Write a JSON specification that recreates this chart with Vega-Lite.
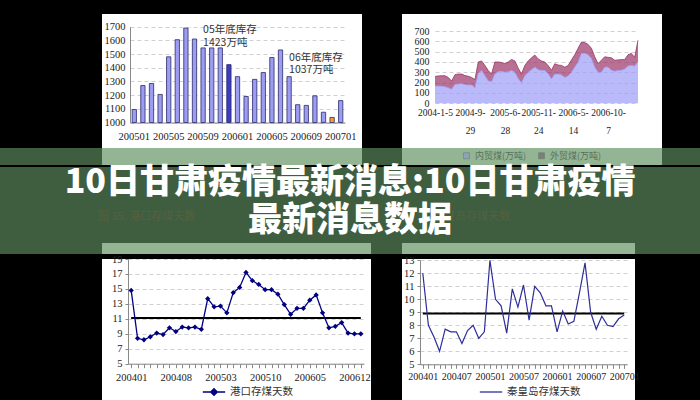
{
  "$schema": "https://vega.github.io/schema/vega-lite/v6.json",
  "background": "#000000",
  "padding": {"top": 14, "left": 0, "right": 0, "bottom": 0},
  "config": {
    "view": {"stroke": null},
    "axis": {"labelFont": "Liberation Serif", "labelFontSize": 10, "labelColor": "#222222", "domainColor": "#888888", "tickColor": "#888888", "gridColor": "#c4c4c4", "gridDash": [4, 3], "gridWidth": 0.8, "labelFlush": false, "labelOverlap": false},
    "legend": {"labelFont": "Noto Sans CJK SC", "labelColor": "#333333"},
    "text": {"font": "Noto Sans CJK SC"}
  },
  "spacing": 0,
  "resolve": {"scale": {"color": "independent"}, "legend": {"color": "independent"}},
  "vconcat": [
    {
      "spacing": 0,
      "resolve": {"scale": {"color": "independent"}, "legend": {"color": "independent"}},
      "hconcat": [
        {"width": 102, "height": 2, "data": {"values": []}, "mark": "point"},
        {
          "width": 260, "height": 134,
          "view": {"fill": "#ffffff", "stroke": null},
          "data": {"values": [
            {"月份": "200501", "库存": 1095}, {"月份": "200502", "库存": 1270}, {"月份": "200503", "库存": 1285},
            {"月份": "200504", "库存": 1205}, {"月份": "200505", "库存": 1480}, {"月份": "200506", "库存": 1605},
            {"月份": "200507", "库存": 1690}, {"月份": "200508", "库存": 1610}, {"月份": "200509", "库存": 1545},
            {"月份": "200510", "库存": 1545}, {"月份": "200511", "库存": 1545}, {"月份": "200512", "库存": 1423},
            {"月份": "200601", "库存": 1335}, {"月份": "200602", "库存": 1190}, {"月份": "200603", "库存": 1315},
            {"月份": "200604", "库存": 1365}, {"月份": "200605", "库存": 1475}, {"月份": "200606", "库存": 1530},
            {"月份": "200607", "库存": 1335}, {"月份": "200608", "库存": 1130}, {"月份": "200609", "库存": 1125},
            {"月份": "200610", "库存": 1195}, {"月份": "200611", "库存": 1075}, {"月份": "200612", "库存": 1037},
            {"月份": "200701", "库存": 1160}
          ]},
          "encoding": {
            "x": {"field": "月份", "type": "ordinal", "title": null,
              "scale": {"type": "band", "range": [28, 243], "paddingInner": 0.5, "paddingOuter": 0.25},
              "axis": {"values": ["200501", "200505", "200509", "200601", "200605", "200609", "200701"], "offset": -25.5, "ticks": false, "labelPadding": 9, "labelAngle": 0, "labelOverlap": false, "labelFontSize": 10.5}},
            "y": {"field": "库存", "type": "quantitative", "title": null,
              "scale": {"domain": [1000, 1700], "range": [108.5, 12.7], "nice": false, "zero": false},
              "axis": {"values": [1000, 1100, 1200, 1300, 1400, 1500, 1600, 1700], "format": "d", "offset": -28, "ticks": false, "labelPadding": 5, "grid": true, "labelOverlap": false, "labelFontSize": 10.5}}
          },
          "layer": [
            {
              "mark": {"type": "bar", "stroke": "#2b2b6b", "strokeWidth": 0.8},
              "encoding": {
                "y2": {"datum": 1000},
                "color": {"condition": [{"test": "datum['月份'] == '200512'", "value": "#3b3bc4"}, {"test": "datum['月份'] == '200612'", "value": "#f2a12a"}], "value": "#9c9cf2"}
              }
            },
            {
              "data": {"values": [
                {"月份": "200509", "库存": 1676, "注": "05年底库存"},
                {"月份": "200509", "库存": 1582, "注": "1423万吨"},
                {"月份": "200607", "库存": 1471, "注": "06年底库存"},
                {"月份": "200607", "库存": 1386, "注": "1037万吨"}
              ]},
              "mark": {"type": "text", "align": "left", "baseline": "middle", "fontSize": 10.5, "color": "#333333"},
              "encoding": {
                "text": {"field": "注"}
              }
            }
          ]
        },
        {"width": 40, "height": 2, "data": {"values": []}, "mark": "point"},
        {
          "width": 260, "height": 134,
          "view": {"fill": "#ffffff", "stroke": null},
          "data": {"values": [
            {"序号": 0, "内贸煤(万吨)": 167, "外贸煤(万吨)": 93}, {"序号": 1, "内贸煤(万吨)": 167, "外贸煤(万吨)": 98},
            {"序号": 2, "内贸煤(万吨)": 165, "外贸煤(万吨)": 102}, {"序号": 3, "内贸煤(万吨)": 160, "外贸煤(万吨)": 107},
            {"序号": 4, "内贸煤(万吨)": 150, "外贸煤(万吨)": 100}, {"序号": 5, "内贸煤(万吨)": 135, "外贸煤(万吨)": 80},
            {"序号": 6, "内贸煤(万吨)": 183, "外贸煤(万吨)": 94}, {"序号": 7, "内贸煤(万吨)": 188, "外贸煤(万吨)": 95},
            {"序号": 8, "内贸煤(万吨)": 190, "外贸煤(万吨)": 93}, {"序号": 9, "内贸煤(万吨)": 180, "外贸煤(万吨)": 88},
            {"序号": 10, "内贸煤(万吨)": 177, "外贸煤(万吨)": 85}, {"序号": 11, "内贸煤(万吨)": 177, "外贸煤(万吨)": 73},
            {"序号": 12, "内贸煤(万吨)": 150, "外贸煤(万吨)": 80}, {"序号": 13, "内贸煤(万吨)": 290, "外贸煤(万吨)": 110},
            {"序号": 14, "内贸煤(万吨)": 317, "外贸煤(万吨)": 93}, {"序号": 15, "内贸煤(万吨)": 267, "外贸煤(万吨)": 100},
            {"序号": 16, "内贸煤(万吨)": 217, "外贸煤(万吨)": 100}, {"序号": 17, "内贸煤(万吨)": 210, "外贸煤(万吨)": 73},
            {"序号": 18, "内贸煤(万吨)": 283, "外贸煤(万吨)": 117}, {"序号": 19, "内贸煤(万吨)": 305, "外贸煤(万吨)": 95},
            {"序号": 20, "内贸煤(万吨)": 310, "外贸煤(万吨)": 85}, {"序号": 21, "内贸煤(万吨)": 300, "外贸煤(万吨)": 85},
            {"序号": 22, "内贸煤(万吨)": 305, "外贸煤(万吨)": 95}, {"序号": 23, "内贸煤(万吨)": 317, "外贸煤(万吨)": 108},
            {"序号": 24, "内贸煤(万吨)": 300, "外贸煤(万吨)": 110}, {"序号": 25, "内贸煤(万吨)": 240, "外贸煤(万吨)": 100},
            {"序号": 26, "内贸煤(万吨)": 200, "外贸煤(万吨)": 83}, {"序号": 27, "内贸煤(万吨)": 267, "外贸煤(万吨)": 100},
            {"序号": 28, "内贸煤(万吨)": 300, "外贸煤(万吨)": 110}, {"序号": 29, "内贸煤(万吨)": 325, "外贸煤(万吨)": 115},
            {"序号": 30, "内贸煤(万吨)": 350, "外贸煤(万吨)": 117}, {"序号": 31, "内贸煤(万吨)": 325, "外贸煤(万吨)": 105},
            {"序号": 32, "内贸煤(万吨)": 317, "外贸煤(万吨)": 93}, {"序号": 33, "内贸煤(万吨)": 317, "外贸煤(万吨)": 83},
            {"序号": 34, "内贸煤(万吨)": 285, "外贸煤(万吨)": 80}, {"序号": 35, "内贸煤(万吨)": 235, "外贸煤(万吨)": 85},
            {"序号": 36, "内贸煤(万吨)": 283, "外贸煤(万吨)": 100}, {"序号": 37, "内贸煤(万吨)": 283, "外贸煤(万吨)": 87},
            {"序号": 38, "内贸煤(万吨)": 275, "外贸煤(万吨)": 92}, {"序号": 39, "内贸煤(万吨)": 250, "外贸煤(万吨)": 100},
            {"序号": 40, "内贸煤(万吨)": 265, "外贸煤(万吨)": 100}, {"序号": 41, "内贸煤(万吨)": 300, "外贸煤(万吨)": 120},
            {"序号": 42, "内贸煤(万吨)": 350, "外贸煤(万吨)": 120}, {"序号": 43, "内贸煤(万吨)": 400, "外贸煤(万吨)": 133},
            {"序号": 44, "内贸煤(万吨)": 483, "外贸煤(万吨)": 110}, {"序号": 45, "内贸煤(万吨)": 485, "外贸煤(万吨)": 103},
            {"序号": 46, "内贸煤(万吨)": 470, "外贸煤(万吨)": 100}, {"序号": 47, "内贸煤(万吨)": 433, "外贸煤(万吨)": 100},
            {"序号": 48, "内贸煤(万吨)": 350, "外贸煤(万吨)": 100}, {"序号": 49, "内贸煤(万吨)": 300, "外贸煤(万吨)": 83},
            {"序号": 50, "内贸煤(万吨)": 300, "外贸煤(万吨)": 117}, {"序号": 51, "内贸煤(万吨)": 350, "外贸煤(万吨)": 100},
            {"序号": 52, "内贸煤(万吨)": 350, "外贸煤(万吨)": 95}, {"序号": 53, "内贸煤(万吨)": 320, "外贸煤(万吨)": 120},
            {"序号": 54, "内贸煤(万吨)": 310, "外贸煤(万吨)": 107}, {"序号": 55, "内贸煤(万吨)": 317, "外贸煤(万吨)": 103},
            {"序号": 56, "内贸煤(万吨)": 320, "外贸煤(万吨)": 103}, {"序号": 57, "内贸煤(万吨)": 333, "外贸煤(万吨)": 90},
            {"序号": 58, "内贸煤(万吨)": 360, "外贸煤(万吨)": 110}, {"序号": 59, "内贸煤(万吨)": 367, "外贸煤(万吨)": 116},
            {"序号": 60, "内贸煤(万吨)": 360, "外贸煤(万吨)": 85}, {"序号": 61, "内贸煤(万吨)": 400, "外贸煤(万吨)": 210}
          ]},
          "transform": [{"fold": ["内贸煤(万吨)", "外贸煤(万吨)"], "as": ["类型", "万吨"]}],
          "mark": {"type": "area", "line": {"color": "#3a0f2a", "strokeWidth": 0.8}},
          "encoding": {
            "x": {"field": "序号", "type": "quantitative", "title": null,
              "scale": {"domain": [0, 61], "range": [33, 236], "nice": false, "zero": false},
              "axis": {"values": [0, 10.5, 21, 31, 41.5, 52], "labelExpr": "datum.value == 0 ? '2004-1-5' : datum.value == 10.5 ? ['2004-9-', '29'] : datum.value == 21 ? ['2005-6-', '28'] : datum.value == 31 ? ['2005-11-', '24'] : datum.value == 41.5 ? ['2006-5-', '14'] : ['2006-10-', '7']", "offset": -44.7, "ticks": false, "domain": false, "grid": false, "labelPadding": 4, "labelLineHeight": 18, "labelFontSize": 9.5, "labelOverlap": false, "labelFlush": false}},
            "y": {"field": "万吨", "type": "quantitative", "stack": "zero", "title": null,
              "scale": {"domain": [0, 700], "range": [89.3, 17], "nice": false},
              "axis": {"values": [0, 100, 200, 300, 400, 500, 600, 700], "offset": -33, "ticks": false, "domain": false, "grid": true, "labelPadding": 6, "labelOverlap": false, "labelFontSize": 10}},
            "color": {"field": "类型", "type": "nominal",
              "scale": {"domain": ["内贸煤(万吨)", "外贸煤(万吨)"], "range": ["#9d9dfa", "#9a3366"]},
              "legend": null},
            "order": {"field": "类型", "sort": "ascending"}
          }
        }
      ]
    },
    {
      "spacing": 0,
      "resolve": {"scale": {"color": "independent"}, "legend": {"color": "independent"}},
      "hconcat": [
        {"width": 102, "height": 17, "view": {"fill": "#3f5e40", "stroke": null}, "data": {"values": []}, "mark": "point"},
        {"width": 260, "height": 17, "view": {"fill": "#94b594", "stroke": null}, "data": {"values": []}, "mark": "point"},
        {"width": 40, "height": 17, "view": {"fill": "#3f5e40", "stroke": null}, "data": {"values": []}, "mark": "point"},
        {
          "width": 260, "height": 17,
          "view": {"fill": "#94b594", "stroke": null},
          "data": {"values": []},
          "mark": "square",
          "encoding": {
            "color": {"field": "类型", "type": "nominal",
              "scale": {"domain": ["内贸煤(万吨)", "外贸煤(万吨)"], "range": ["#8c9ccc", "#6e6a6c"]},
              "legend": {"title": null, "orient": "none", "legendX": 60, "legendY": 3, "direction": "horizontal", "symbolType": "square", "symbolSize": 36, "symbolStrokeColor": "#5a6a5a", "symbolStrokeWidth": 0.6, "labelFontSize": 9, "labelColor": "#56705a", "columnPadding": 10}}
          }
        },
        {"width": 38, "height": 17, "view": {"fill": "#3f5e40", "stroke": null}, "data": {"values": []}, "mark": "point"}
      ]
    },
    {
      "width": 700, "height": 76,
      "view": {"fill": "#3f5e40", "stroke": null},
      "layer": [
        {
          "data": {"values": [
            {"行": 2, "列": "左", "文字": "图 35:  港口存煤天数"},
            {"行": 2, "列": "右", "文字": "图 36:  秦皇岛存煤天数"}
          ]},
          "mark": {"type": "text", "font": "Noto Sans CJK SC", "fontSize": 11, "color": "#56603f", "align": "left", "baseline": "middle", "dy": -4},
          "encoding": {
            "x": {"field": "列", "type": "nominal", "scale": {"type": "point", "domain": ["左", "右"], "range": [98, 402], "padding": 0}, "axis": null},
            "y": {"field": "行", "type": "ordinal", "scale": {"type": "point", "domain": [1, 2], "range": [15.5, 53.5], "padding": 0}, "axis": null},
            "text": {"field": "文字"}
          }
        },
        {
          "data": {"values": [
            {"行": 1, "标题": "10日甘肃疫情最新消息:10日甘肃疫情"},
            {"行": 2, "标题": "最新消息数据"}
          ]},
          "mark": {"type": "text", "font": "Noto Sans CJK SC", "fontSize": 34, "fontWeight": 900, "color": "#ffffff", "align": "center", "baseline": "middle"},
          "encoding": {
            "y": {"field": "行", "type": "ordinal", "axis": null},
            "text": {"field": "标题"}
          }
        }
      ]
    },
    {
      "spacing": 0,
      "hconcat": [
        {"width": 102, "height": 11, "view": {"fill": "#3f5e40", "stroke": null}, "data": {"values": []}, "mark": "point"},
        {"width": 269, "height": 11, "view": {"fill": "#94b594", "stroke": null}, "data": {"values": []}, "mark": "point"},
        {"width": 31, "height": 11, "view": {"fill": "#3f5e40", "stroke": null}, "data": {"values": []}, "mark": "point"},
        {"width": 233, "height": 11, "view": {"fill": "#94b594", "stroke": null}, "data": {"values": []}, "mark": "point"},
        {"width": 65, "height": 11, "view": {"fill": "#3f5e40", "stroke": null}, "data": {"values": []}, "mark": "point"}
      ]
    },
    {
      "spacing": 0,
      "resolve": {"scale": {"color": "independent"}, "legend": {"color": "independent"}},
      "hconcat": [
        {"width": 102, "height": 2, "data": {"values": []}, "mark": "point"},
        {
          "width": 269, "height": 148,
          "view": {"fill": "#ffffff", "stroke": null},
          "data": {"values": [
            {"月份": "200401", "天数": 14.8}, {"月份": "200402", "天数": 8.4}, {"月份": "200403", "天数": 8.2},
            {"月份": "200404", "天数": 8.6}, {"月份": "200405", "天数": 9.1}, {"月份": "200406", "天数": 8.9},
            {"月份": "200407", "天数": 9.8}, {"月份": "200408", "天数": 9.3}, {"月份": "200409", "天数": 9.9},
            {"月份": "200410", "天数": 9.8}, {"月份": "200411", "天数": 9.9}, {"月份": "200412", "天数": 9.6},
            {"月份": "200501", "天数": 13.7}, {"月份": "200502", "天数": 12.6}, {"月份": "200503", "天数": 12.7},
            {"月份": "200504", "天数": 11.8}, {"月份": "200505", "天数": 14.5}, {"月份": "200506", "天数": 15.2},
            {"月份": "200507", "天数": 17.2}, {"月份": "200508", "天数": 16.1}, {"月份": "200509", "天数": 15.6},
            {"月份": "200510", "天数": 14.9}, {"月份": "200511", "天数": 14.9}, {"月份": "200512", "天数": 14.3},
            {"月份": "200601", "天数": 12.9}, {"月份": "200602", "天数": 11.6}, {"月份": "200603", "天数": 12.4},
            {"月份": "200604", "天数": 12.4}, {"月份": "200605", "天数": 13.5}, {"月份": "200606", "天数": 14.2},
            {"月份": "200607", "天数": 11.8}, {"月份": "200608", "天数": 9.8}, {"月份": "200609", "天数": 10.0},
            {"月份": "200610", "天数": 10.5}, {"月份": "200611", "天数": 9.1}, {"月份": "200612", "天数": 9.0},
            {"月份": "200701", "天数": 9.0}
          ]},
          "encoding": {
            "x": {"field": "月份", "type": "ordinal", "title": null,
              "scale": {"type": "point", "range": [26, 262], "padding": 0.5},
              "axis": {"labelExpr": "indexof(['200401','200408','200503','200510','200605','200612'], datum.value) >= 0 ? datum.value : ''", "offset": -43.3, "ticks": true, "tickSize": 4, "labelAngle": 0, "labelPadding": 5, "labelOverlap": false, "labelFontSize": 10.5}},
            "y": {"field": "天数", "type": "quantitative", "title": null,
              "scale": {"domain": [5, 19], "range": [104.7, 0], "nice": false, "zero": false},
              "axis": {"values": [5, 7, 9, 11, 13, 15, 17, 19], "offset": -26, "ticks": true, "tickSize": 3, "grid": true, "labelPadding": 3, "labelOverlap": false, "labelFontSize": 10.5}}
          },
          "layer": [
            {
              "data": {"values": [{"月份": "200401", "天数": 11.1}, {"月份": "200701", "天数": 11.1}]},
              "mark": {"type": "line", "color": "#000000", "strokeWidth": 2}
            },
            {
              "mark": {"type": "line", "strokeWidth": 1.3, "point": {"shape": "diamond", "size": 28, "filled": true}},
              "encoding": {
                "color": {"datum": "港口存煤天数", "scale": {"range": ["#000080"]},
                  "legend": {"title": null, "orient": "none", "legendX": 100, "legendY": 121, "symbolType": "M-1,0L1,0M0,-0.3L0.3,0L0,0.3L-0.3,0Z", "symbolSize": 500, "symbolStrokeWidth": 1.3, "symbolFillColor": "#000080", "symbolStrokeColor": "#000080", "labelFontSize": 10.5}}
              }
            }
          ]
        },
        {"width": 31, "height": 2, "data": {"values": []}, "mark": "point"},
        {
          "width": 233, "height": 148,
          "view": {"fill": "#ffffff", "stroke": null},
          "data": {"values": [
            {"月份": "200401", "天数": 12.0}, {"月份": "200402", "天数": 8.0}, {"月份": "200403", "天数": 7.1},
            {"月份": "200404", "天数": 6.0}, {"月份": "200405", "天数": 7.7}, {"月份": "200406", "天数": 7.5},
            {"月份": "200407", "天数": 7.5}, {"月份": "200408", "天数": 6.6}, {"月份": "200409", "天数": 7.6},
            {"月份": "200410", "天数": 8.0}, {"月份": "200411", "天数": 7.0}, {"月份": "200412", "天数": 7.5},
            {"月份": "200501", "天数": 13.0}, {"月份": "200502", "天数": 10.0}, {"月份": "200503", "天数": 9.5},
            {"月份": "200504", "天数": 7.4}, {"月份": "200505", "天数": 10.8}, {"月份": "200506", "天数": 9.4},
            {"月份": "200507", "天数": 11.1}, {"月份": "200508", "天数": 8.4}, {"月份": "200509", "天数": 11.0},
            {"月份": "200510", "天数": 10.5}, {"月份": "200511", "天数": 9.5}, {"月份": "200512", "天数": 9.5},
            {"月份": "200601", "天数": 7.5}, {"月份": "200602", "天数": 9.1}, {"月份": "200603", "天数": 8.1},
            {"月份": "200604", "天数": 8.3}, {"月份": "200605", "天数": 10.5}, {"月份": "200606", "天数": 12.8},
            {"月份": "200607", "天数": 9.0}, {"月份": "200608", "天数": 7.7}, {"月份": "200609", "天数": 8.7},
            {"月份": "200610", "天数": 8.0}, {"月份": "200611", "天数": 7.9}, {"月份": "200612", "天数": 8.5},
            {"月份": "200701", "天数": 8.8}
          ]},
          "encoding": {
            "x": {"field": "月份", "type": "ordinal", "title": null,
              "scale": {"type": "point", "range": [18, 225], "padding": 0.5},
              "axis": {"labelExpr": "indexof(['200401','200407','200501','200507','200601','200607','200701'], datum.value) >= 0 ? datum.value : ''", "offset": -42.7, "ticks": true, "tickSize": 4, "labelAngle": 0, "labelPadding": 3, "labelOverlap": false, "labelFontSize": 10}},
            "y": {"field": "天数", "type": "quantitative", "title": null,
              "scale": {"domain": [5, 13], "range": [105.3, 1.3], "nice": false, "zero": false},
              "axis": {"values": [5, 6, 7, 8, 9, 10, 11, 12, 13], "offset": -18, "ticks": true, "tickSize": 3, "grid": true, "labelPadding": 3, "labelOverlap": false, "labelFontSize": 10.5}}
          },
          "layer": [
            {
              "data": {"values": [{"月份": "200401", "天数": 8.9}, {"月份": "200701", "天数": 8.9}]},
              "mark": {"type": "line", "color": "#000000", "strokeWidth": 2}
            },
            {
              "mark": {"type": "line", "strokeWidth": 1.2},
              "encoding": {
                "color": {"datum": "秦皇岛存煤天数", "scale": {"range": ["#2e2e99"]},
                  "legend": {"title": null, "orient": "none", "legendX": 77, "legendY": 121, "symbolType": "stroke", "symbolSize": 500, "symbolStrokeWidth": 1.3, "labelFontSize": 10.5}}
              }
            }
          ]
        }
      ]
    }
  ]
}
